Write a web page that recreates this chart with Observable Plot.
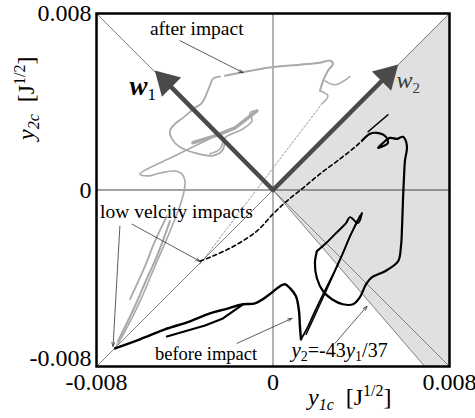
<!DOCTYPE html>
<html><head><meta charset="utf-8">
<script src="https://cdn.jsdelivr.net/npm/d3@7"></script>
<script src="https://cdn.jsdelivr.net/npm/@observablehq/plot@0.6"></script>
<style>body{margin:0;background:#fff}</style>
</head><body><div id="chart"></div>
<script>
// All trajectory values below are in units of 1e-3 J^(1/2)
const U = 1e-3;
const xTicks = [-0.008, 0, 0.008];
const xTickLabels = ["-0.008", "0", "0.008"];
const yTicks = [0.008, 0];
const yTickLabels = ["0.008", "0"];
const yTickLow = [-0.008];
const yTickLowLabels = ["-0.008"];

// shaded half-plane region (bounded by y2 = y1 and y2 = -43 y1/37)
const shadeX = [0, 6.88, 8];
const shadeLow = [0, -8, -8];
const shadeHigh = [0, 6.88, 8];

// reference lines
const refLines = [
  {x1: -8, y1: -8, x2: 8, y2: 8},
  {x1: -8, y1: 8, x2: 8, y2: -8},
  {x1: 0, y1: 0, x2: 6.88, y2: -8}
];

// after impact (gray)
const afterRise = [[-7.16,-7.18],[-6.71,-6.41],[-6.03,-5.05],[-5.35,-3.45],[-4.76,-2.09],[-4.22,-0.73],[-4.03,-0.05],[-3.99,0.41],[-4.13,0.73],[-4.44,0.86],[-5.12,0.77],[-5.67,0.64],[-6.03,0.73],[-4.44,1.55],[-2.86,2.32]];
const afterRise2a = [[-7.03,-6.86],[-6.26,-5.27],[-5.71,-4.00],[-5.26,-3.00],[-4.67,-1.41]];
const afterRise2b = [[-6.48,-4.95],[-5.80,-3.45],[-5.35,-2.32],[-4.81,-1.18]];
const afterLoop = [[-2.18,2.23],[-2.31,1.77],[-2.77,1.55],[-3.54,1.68],[-4.22,1.95],[-4.58,2.32],[-4.67,2.68],[-4.44,3.00],[-4.08,3.27],[-3.54,3.73],[-3.22,3.95],[-2.86,4.73],[-2.72,5.05],[-2.40,5.14]];
const afterTop = [[-2.18,5.18],[-1.27,5.36],[-0.14,5.55],[1.22,5.68],[2.13,5.77],[2.58,5.86],[2.72,5.73],[2.49,5.41],[2.27,4.95],[2.13,4.50]];
const afterHookA = [[2.36,4.95],[2.81,4.77],[3.49,5.14]];
const afterHookB = [[2.13,4.50],[2.49,4.27],[2.22,3.91]];
const afterStreak = [[-3.63,2.14],[-2.63,2.45],[-1.72,2.82],[-0.73,3.59]];
const afterStreakBack = [[-0.73,3.59],[-1.04,3.50],[-0.95,3.14],[-1.36,2.77],[-2.18,2.36],[-2.40,1.86],[-2.86,1.64]];
const afterDotted = [[-3.31,-3.36],[2.22,3.91]];

// before impact (black)
const beforeRise = [[-7.16,-7.18],[-6.03,-6.77],[-4.90,-6.32],[-3.76,-5.95],[-2.86,-5.59],[-2.18,-5.41],[-1.36,-5.18],[-0.82,-5.14],[-0.27,-4.82],[0.32,-4.36],[0.54,-4.27],[0.77,-4.45],[1.04,-4.82],[1.18,-5.50],[1.22,-6.18],[1.27,-6.77]];
const beforeRise2 = [[-4.81,-6.64],[-3.08,-6.14],[-2.27,-5.82],[-1.36,-5.18]];
const beforeClimb = [[1.27,-6.77],[1.59,-6.18],[1.90,-5.50],[2.27,-4.73],[2.72,-3.82],[3.17,-2.86],[3.49,-2.09],[3.72,-1.64],[3.94,-1.18]];
const beforeClimb2 = [[1.50,-6.55],[2.13,-5.18],[2.81,-3.68],[3.40,-2.32],[3.81,-1.41],[4.03,-1.05]];
const beforeM = [[4.03,-1.05],[3.85,-1.50],[3.49,-1.23],[3.31,-1.50],[2.81,-2.00],[2.36,-2.45],[1.99,-2.77]];
const beforeArc = [[1.99,-2.77],[1.90,-3.32],[1.99,-4.00],[2.27,-4.59],[2.67,-4.95],[3.17,-5.18],[3.63,-5.18],[3.94,-4.86],[4.22,-4.27],[4.49,-3.95],[5.08,-3.68],[5.67,-3.23],[5.80,-2.55],[5.85,-1.64],[5.89,-0.50],[5.94,0.64],[5.98,1.32],[6.07,2.00],[5.89,2.41],[5.62,2.32],[5.30,2.36],[4.94,2.09],[4.76,1.91],[5.21,2.14],[5.08,2.45],[4.71,2.59],[4.40,2.55],[4.03,2.23]];
const beforeTick = [[4.31,2.64],[5.21,3.41]];
const beforeDashed = [[-3.31,-3.23],[-1.95,-2.64],[-0.73,-1.86],[0,-1.09],[0.63,-0.50],[1.36,0.09],[2.13,0.73],[3.04,1.41],[3.72,1.95],[4.03,2.23]];

// principal directions
const wVectors = [{name: "w1", x: -5.35, y: 5.41}, {name: "w2", x: 5.67, y: 5.68}];

// annotation arrows
const annotArrows = [
  {x1: -4.22, y1: 6.77, x2: -1.36, y2: 5.32},
  {x1: -6.94, y1: -1.64, x2: -7.25, y2: -7.09},
  {x1: -6.39, y1: -1.55, x2: -3.31, y2: -3.23},
  {x1: -1.63, y1: -6.95, x2: 0.86, y2: -5.82},
  {x1: 2.81, y1: -6.95, x2: 4.26, y2: -5.27}
];
const annotTexts = [
  {text: "after impact", x: -5.58, y: 7.29, size: 19.5},
  {text: "low velcity impacts", x: -7.84, y: -0.98, size: 19.5},
  {text: "before impact", x: -5.35, y: -7.44, size: 18.5}
];
// rich labels (start x, baseline y)
const w1Label = {x: -6.48, y: 4.27};
const w2Label = {x: 5.62, y: 4.59};
const eqLabel = {x: 0.86, y: -7.59};

const px = d => d[0] * U, py = d => d[1] * U;
const GRAY = "#a9a9a9";
const line = (pts, o) => Plot.line(pts, {x: px, y: py, curve: "catmull-rom", ...o});

const plot = Plot.plot({
  width: 475, height: 418,
  marginTop: 13, marginLeft: 96, marginRight: 26, marginBottom: 52,
  style: {fontFamily: "Liberation Serif, serif", background: "#fff", color: "#000"},
  x: {domain: [-0.008, 0.008]},
  y: {domain: [-0.008, 0.008]},
  marks: [
    Plot.areaY(shadeX.map((x, i) => ({x, lo: shadeLow[i], hi: shadeHigh[i]})),
      {x: d => d.x * U, y1: d => d.lo * U, y2: d => d.hi * U, fill: "#e0e0e0"}),
    Plot.link(refLines, {x1: d => d.x1 * U, y1: d => d.y1 * U, x2: d => d.x2 * U, y2: d => d.y2 * U, stroke: "#808080", strokeWidth: 1}),
    Plot.ruleX([0], {stroke: "#9a9a9a", strokeWidth: 1.5}),
    Plot.ruleY([0], {stroke: "#444", strokeWidth: 1}),
    // gray: after impact
    line(afterDotted, {stroke: "#999", strokeWidth: 1, strokeDasharray: "2,2", curve: "linear"}),
    line(afterRise, {stroke: GRAY, strokeWidth: 1.6}),
    line(afterRise2a, {stroke: GRAY, strokeWidth: 2}),
    line(afterRise2b, {stroke: GRAY, strokeWidth: 1.8}),
    line(afterLoop, {stroke: GRAY, strokeWidth: 1.8}),
    line(afterTop, {stroke: GRAY, strokeWidth: 2}),
    line(afterHookA, {stroke: GRAY, strokeWidth: 1.5}),
    line(afterHookB, {stroke: GRAY, strokeWidth: 1.5}),
    line(afterStreak, {stroke: GRAY, strokeWidth: 3.5, curve: "linear"}),
    line(afterStreakBack, {stroke: GRAY, strokeWidth: 1.6}),
    // black: before impact
    line(beforeDashed, {stroke: "#000", strokeWidth: 1.6, strokeDasharray: "4,3"}),
    line(beforeRise, {stroke: "#000", strokeWidth: 2.4}),
    line(beforeRise2, {stroke: "#000", strokeWidth: 2.2, curve: "linear"}),
    line(beforeClimb, {stroke: "#000", strokeWidth: 1.8}),
    line(beforeClimb2, {stroke: "#000", strokeWidth: 1.5}),
    line(beforeM, {stroke: "#000", strokeWidth: 2}),
    line(beforeArc, {stroke: "#000", strokeWidth: 2.2}),
    line(beforeTick, {stroke: "#000", strokeWidth: 1.6, curve: "linear"}),
    // w vectors
    Plot.arrow(wVectors, {x1: () => 0, y1: () => 0, x2: d => d.x * U, y2: d => d.y * U, headLength: 0, insetEnd: 12, stroke: "#4a4a4a", strokeWidth: 4.5}),
    Plot.dot([wVectors[0]], {x: d => d.x * U, y: d => d.y * U, symbol: "triangle2", r: 13, rotate: -45, dx: 11, dy: 11, fill: "#4a4a4a", stroke: "none"}),
    Plot.dot([wVectors[1]], {x: d => d.x * U, y: d => d.y * U, symbol: "triangle2", r: 13, rotate: 45, dx: -11, dy: 11, fill: "#4a4a4a", stroke: "none"}),
    // annotations
    Plot.arrow(annotArrows, {x1: d => d.x1 * U, y1: d => d.y1 * U, x2: d => d.x2 * U, y2: d => d.y2 * U, stroke: "#333", strokeWidth: 0.8, headLength: 8, headAngle: 40}),
    Plot.text(annotTexts, {x: d => d.x * U, y: d => d.y * U, text: "text", textAnchor: "start", lineAnchor: "middle", fontSize: d => d.size, fill: "#000"}),
    Plot.frame({stroke: "#000", strokeWidth: 2.5}),
    Plot.axisX(xTicks, {tickSize: 0, tickPadding: 6, fontSize: 24, tickFormat: (d, i) => xTickLabels[i], label: null}),
    Plot.axisY(yTicks, {tickSize: 0, tickPadding: 5, fontSize: 24, tickFormat: (d, i) => yTickLabels[i], label: null}),
    Plot.text(yTickLow, {x: () => -0.008, y: d => d, text: (d, i) => yTickLowLabels[i], textAnchor: "end", dx: -5, dy: -8, fontSize: 24, fill: "#000"})
  ]
});

const xs = plot.scale("x"), ys = plot.scale("y");
const svg = d3.select(plot);

function rich(x, y, parts, opts = {}) {
  const t = svg.append("text").attr("x", x).attr("y", y)
    .attr("text-anchor", "start")
    .attr("font-family", "Liberation Serif, serif").attr("fill", opts.fill || "#000");
  if (opts.transform) t.attr("transform", opts.transform);
  let cur = 0;
  for (const p of parts) {
    const target = -(p.shift || 0);
    const s = t.append("tspan").text(p.t).attr("font-size", p.size).attr("dy", target - cur);
    if (p.italic) s.attr("font-style", "italic");
    if (p.bold) s.attr("font-weight", "bold");
    if (p.dx) s.attr("dx", p.dx);
    cur = target;
  }
  return t;
}

// w1, w2
rich(xs.apply(w1Label.x * U), ys.apply(w1Label.y * U), [
  {t: "w", size: 27, italic: true, bold: true},
  {t: "1", size: 17, shift: -5}
]);
rich(xs.apply(w2Label.x * U), ys.apply(w2Label.y * U), [
  {t: "w", size: 24, italic: true},
  {t: "2", size: 15, shift: -5}
], {fill: "#3a3a3a"});
// equation label
rich(xs.apply(eqLabel.x * U), ys.apply(eqLabel.y * U), [
  {t: "y", size: 21, italic: true},
  {t: "2", size: 14, shift: -4},
  {t: "=-43", size: 20},
  {t: "y", size: 21, italic: true},
  {t: "1", size: 14, shift: -4},
  {t: "/37", size: 20}
]);
// x axis title
rich(308, 405, [
  {t: "y", size: 24, italic: true},
  {t: "1c", size: 16, shift: -5, italic: true},
  {t: "\u2002[J", size: 24},
  {t: "1/2", size: 16, shift: 9},
  {t: "]", size: 24}
]);
// y axis title (rotated)
rich(0, 0, [
  {t: "y", size: 24, italic: true},
  {t: "2c", size: 16, shift: -5, italic: true},
  {t: "\u2002[J", size: 24},
  {t: "1/2", size: 16, shift: 9},
  {t: "]", size: 24}
], {transform: "translate(34,140) rotate(-90)"});

document.getElementById("chart").append(plot);
</script>
</body></html>
